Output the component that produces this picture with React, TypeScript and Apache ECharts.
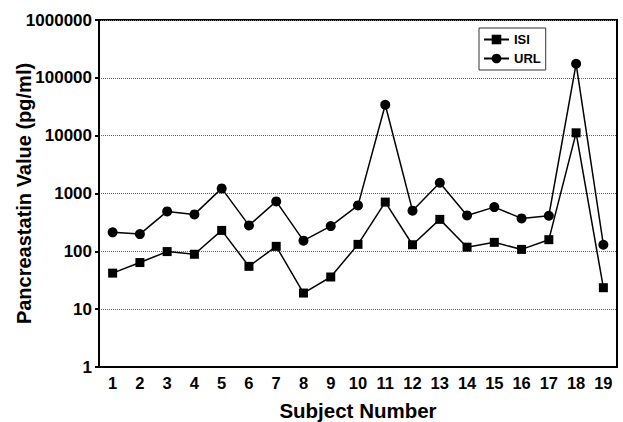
import React, { useEffect, useRef } from "react";
import * as echarts from "echarts";

const subjects = ["1","2","3","4","5","6","7","8","9","10","11","12","13","14","15","16","17","18","19"];
const isiValues = [42, 64, 99, 89, 230, 55, 122, 19, 36, 132, 710, 130, 357, 118, 143, 108, 159, 11200, 23.5];
const urlValues = [213, 199, 490, 435, 1225, 281, 730, 153, 273, 622, 34200, 505, 1536, 418, 582, 371, 413, 175000, 130];
const yMin = 1;
const yMax = 1000000;

const FONT = "Arial, 'Liberation Sans', Helvetica, sans-serif";

export default function App() {
  const ref = useRef<HTMLDivElement>(null);
  useEffect(() => {
    if (!ref.current) return;
    const chart = echarts.init(ref.current, undefined, { renderer: "svg" });
    chart.setOption({
      animation: false,
      backgroundColor: "#fff",
      textStyle: { fontFamily: FONT },
      grid: {
        left: 99, right: 6, top: 20, bottom: 55,
        containLabel: false,
        outerBoundsMode: "none",
        show: true, borderColor: "#000", borderWidth: 2, backgroundColor: "transparent",
      },
      legend: {
        left: 479, top: 28, orient: "vertical",
        borderColor: "#333", borderWidth: 1, borderRadius: 0,
        padding: [5, 5, 5, 4], itemGap: 6, itemWidth: 25, itemHeight: 12,
        textStyle: { fontFamily: FONT, fontWeight: "bold", fontSize: 13, color: "#000" },
        data: ["ISI", "URL"],
      },
      xAxis: {
        type: "category",
        data: subjects,
        boundaryGap: true,
        axisLine: { show: true, lineStyle: { color: "#000", width: 2 } },
        axisTick: { show: false },
        axisLabel: { color: "#000", fontFamily: FONT, fontWeight: "bold", fontSize: 16.5, margin: 7, interval: 0 },
        name: "Subject Number",
        nameLocation: "middle",
        nameGap: 33,
        nameMoveOverlap: false,
        nameTextStyle: { color: "#000", fontFamily: FONT, fontWeight: "bold", fontSize: 20.5 },
        splitLine: { show: false },
      },
      yAxis: {
        type: "log",
        logBase: 10,
        min: yMin,
        max: yMax,
        axisLine: { show: true, lineStyle: { color: "#000", width: 2 } },
        axisTick: { show: true, length: 4, lineStyle: { color: "#000", width: 2 } },
        axisLabel: {
          color: "#000", fontFamily: FONT, fontWeight: "bold", fontSize: 17, margin: 7,
          formatter: (v: number) => String(Math.round(v)),
        },
        minorTick: { show: false },
        splitLine: { show: true, lineStyle: { color: "#666", type: [1, 1], width: 1 } },
        name: "Pancreastatin Value (pg/ml)",
        nameLocation: "middle",
        nameGap: 65,
        nameMoveOverlap: false,
        nameTextStyle: { color: "#000", fontFamily: FONT, fontWeight: "bold", fontSize: 20 },
      },
      series: [
        {
          name: "ISI",
          type: "line",
          data: isiValues,
          symbol: "rect",
          symbolSize: 9,
          lineStyle: { color: "#000", width: 1.5 },
          itemStyle: { color: "#000" },
          z: 3,
        },
        {
          name: "URL",
          type: "line",
          data: urlValues,
          symbol: "circle",
          symbolSize: 10,
          lineStyle: { color: "#000", width: 1.5 },
          itemStyle: { color: "#000" },
          z: 3,
        },
      ],
    });
    return () => chart.dispose();
  }, []);
  return <div ref={ref} style={{ width: 623, height: 422, position: "absolute", left: 0, top: 0 }} />;
}
